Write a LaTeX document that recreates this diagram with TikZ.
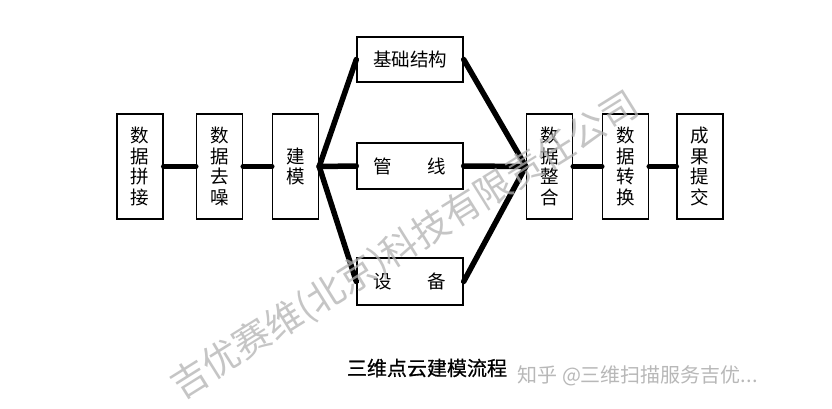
\documentclass[tikz,border=0pt]{standalone}
\usepackage{fontspec}
\setmainfont{Liberation Serif}
\newfontfamily\cjk{Noto Sans CJK SC}
\newfontfamily\cjkb[FakeBold=0.6]{Noto Sans CJK SC}
\begin{document}
\begin{tikzpicture}[x=1pt,y=1pt,
  box/.style={draw=black, line width=1.4pt, fill=white, inner sep=0pt, align=center,
    font=\cjk\fontsize{18.5}{20.5}\selectfont},
  vbox/.style={box, minimum width=46pt, minimum height=105pt},
  hbox/.style={box, minimum width=106pt, minimum height=46pt},
  conn/.style={line width=5.5pt, line cap=round, line join=round}]
\useasboundingbox[fill=white] (0,0) rectangle (832,-409);
% boxes
\node[vbox] (b1) at (140,-166.5) {数\\据\\拼\\接};
\node[vbox] (b2) at (219.5,-166.5) {数\\据\\去\\噪};
\node[vbox] (b3) at (295.5,-166.5) {建\\模};
\node[hbox, minimum height=45pt] (top) at (410,-59.5) {基础结构};
\node[hbox] (mid) at (410,-166) {管\hspace{36pt}线};
\node[hbox, minimum height=47pt] (bot) at (410,-281.5) {设\hspace{36pt}备};
\node[vbox] (b4) at (549.5,-166.5) {数\\据\\整\\合};
\node[vbox] (b5) at (625.5,-166.5) {数\\据\\转\\换};
\node[vbox] (b6) at (700,-166.5) {成\\果\\提\\交};
% connectors
\draw[conn] (b1.east) -- (b2.west);
\draw[conn] (b2.east) -- (b3.west);
\draw[conn] (b3.east) -- (top.west);
\draw[conn] (b3.east) -- (mid.west);
\draw[conn] (b3.east) -- (bot.west);
\draw[conn] (top.east) -- (b4.west);
\draw[conn] (mid.east) -- (b4.west);
\draw[conn] (bot.east) -- (b4.west);
\draw[conn] (b4.east) -- (b5.west);
\draw[conn] (b5.east) -- (b6.west);
% caption
\node[font=\cjkb\fontsize{20}{22}\selectfont, text=black] (cap) at (427,-368) {三维点云建模流程};
% watermarks
\node[font=\cjk\fontsize{20}{22}\selectfont, text=black!28, anchor=west] (zh) at (514,-376) {知乎 @三维扫描服务吉优...};
\node[font=\cjk\fontsize{37}{40}\selectfont, text=black!30, opacity=0.75, rotate=32] (wm) at (405,-246) {吉优赛维(北京)科技有限责任公司};
\end{tikzpicture}
\end{document}
